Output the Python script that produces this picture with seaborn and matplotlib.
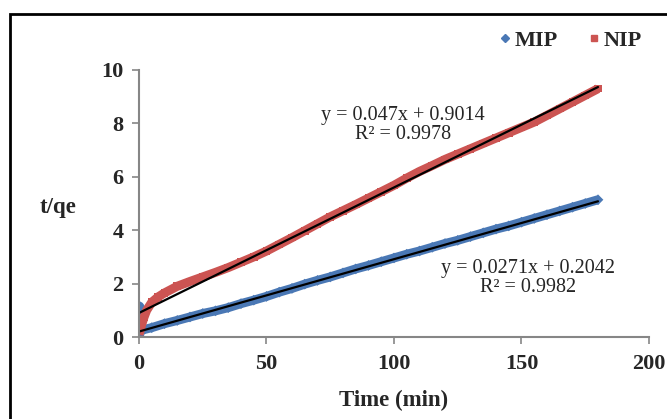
"""Pseudo-second-order kinetics plot: t/qe vs time for MIP and NIP."""

import matplotlib

matplotlib.use("Agg")

import matplotlib.pyplot as plt
import pandas as pd
import seaborn as sns
from matplotlib.lines import Line2D
from matplotlib.patches import Rectangle

# data
mip_time = [0, 0.25, 0.5, 1, 2, 5, 10, 15, 20, 25, 30, 35, 40, 45, 50, 55, 60, 65,
            70, 75, 80, 85, 90, 95, 100, 105, 110, 115, 120, 125, 130, 135, 140,
            145, 150, 155, 160, 165, 170, 175, 180]
mip_tqe = [0.05, 1.15, 0.7, 0.3, 0.28, 0.35, 0.5, 0.62, 0.75, 0.88, 0.98, 1.1,
           1.25, 1.38, 1.52, 1.68, 1.82, 1.98, 2.12, 2.25, 2.4, 2.55, 2.68, 2.82,
           2.96, 3.1, 3.22, 3.36, 3.5, 3.62, 3.76, 3.9, 4.04, 4.16, 4.3, 4.44,
           4.58, 4.72, 4.86, 5.0, 5.14]

nip_time = [0, 0.5, 1, 2, 3, 5, 7.5, 10, 15, 20, 25, 30, 35, 40, 45, 50, 55, 60,
            65, 70, 75, 80, 85, 90, 95, 100, 105, 110, 115, 120, 125, 130, 135,
            140, 145, 150, 155, 160, 165, 170, 175, 180]
nip_tqe = [0.1, 0.25, 0.45, 0.75, 1.0, 1.3, 1.5, 1.65, 1.9, 2.08, 2.25, 2.42,
           2.6, 2.8, 3.0, 3.22, 3.47, 3.72, 3.98, 4.24, 4.5, 4.73, 4.96, 5.2,
           5.44, 5.68, 5.95, 6.2, 6.42, 6.65, 6.85, 7.05, 7.25, 7.45, 7.65, 7.85,
           8.05, 8.3, 8.55, 8.8, 9.05, 9.3]

series_names = ["MIP", "NIP"]
fit_slope = [0.0271, 0.047]
fit_intercept = [0.2042, 0.9014]
fit_labels = ["y = 0.0271x + 0.2042\nR² = 0.9982", "y = 0.047x + 0.9014\nR² = 0.9978"]
fit_label_pos = [(152.5, 2.2), (103.5, 7.95)]

x_ticks = [0, 50, 100, 150, 200]
y_ticks = [0, 2, 4, 6, 8, 10]

colors = {"MIP": "#4a78b5", "NIP": "#cc5452"}
markers = {"MIP": "D", "NIP": "s"}

sns.set_style("white")
plt.rcParams["font.family"] = ["Liberation Serif", "DejaVu Serif"]

df = pd.concat([
    pd.DataFrame({"time": mip_time, "tqe": mip_tqe, "series": "MIP"}),
    pd.DataFrame({"time": nip_time, "tqe": nip_tqe, "series": "NIP"}),
])

fig = plt.figure(figsize=(6.67, 4.19), dpi=100)
ax = fig.add_axes([0.2084, 0.1957, 0.7646, 0.6373])

# dense marker band, Excel-style
for name in series_names:
    sub = df[df["series"] == name]
    sns.lineplot(data=sub, x="time", y="tqe", ax=ax, color=colors[name],
                 linewidth=6.5, sort=False, legend=False, estimator=None,
                 solid_capstyle="butt")
    sns.scatterplot(data=sub, x="time", y="tqe", ax=ax, color=colors[name],
                    marker=markers[name], s=30, edgecolor="none", legend=False)

# linear trend lines + equations
for i, name in enumerate(series_names):
    sub = df[df["series"] == name]
    xs = [sub["time"].min(), sub["time"].max()]
    ys = [fit_intercept[i] + fit_slope[i] * x for x in xs]
    sns.lineplot(x=xs, y=ys, ax=ax, color="black", linewidth=1.6, legend=False)
    ax.text(*fit_label_pos[i], fit_labels[i], ha="center", va="center",
            fontsize=14.5, linespacing=1.0)

ax.set_xlim(0, 200)
ax.set_ylim(0, 10)
ax.set_xticks(x_ticks)
ax.set_yticks(y_ticks)
ax.tick_params(axis="both", direction="out", length=5, width=1.2, color="#868686",
               labelsize=16, left=True, bottom=True)
ax.tick_params(axis="y", pad=6)
ax.tick_params(axis="x", pad=7)
for lbl in ax.get_xticklabels() + ax.get_yticklabels():
    lbl.set_fontweight("bold")
for side in ["top", "right"]:
    ax.spines[side].set_visible(False)
for side in ["left", "bottom"]:
    ax.spines[side].set_color("#868686")
    ax.spines[side].set_linewidth(1.5)

ax.set_xlabel("Time (min)", fontsize=16.5, fontweight="bold", labelpad=12)
ax.set_ylabel("")
fig.text(58 / 667, 1 - 207 / 419, "t/qe", fontsize=16.5, fontweight="bold",
         ha="center", va="center")

handles = [Line2D([], [], linestyle="none", marker=markers[n], color=colors[n],
                  markersize=4) for n in series_names]
fig.legend(handles, series_names, loc="center", bbox_to_anchor=(0.855, 0.903),
           ncol=2, frameon=False, handletextpad=0.15, columnspacing=1.3,
           prop={"size": 16, "weight": "bold"}, handlelength=0.6)

# outer chart border (only top/left visible in the crop)
fig.patches.append(Rectangle((10 / 667, -0.1), 1.2, 1.1 - 14 / 419,
                             transform=fig.transFigure, fill=False,
                             edgecolor="black", linewidth=2))

fig.savefig("out.png", dpi=100)
